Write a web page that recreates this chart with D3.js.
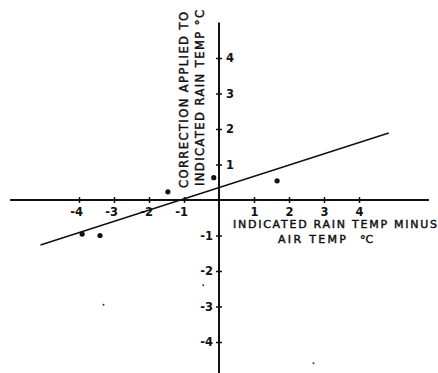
<!DOCTYPE html>
<html>
<head>
<meta charset="utf-8">
<script src="https://cdn.jsdelivr.net/npm/d3@7"></script>
<style>
  body { margin: 0; background: #fff; }
  svg { display: block; }
  text { font-family: "DejaVu Sans", sans-serif; fill: #111; }
  .title { stroke: #111; stroke-width: 0.45; }
</style>
</head>
<body>
<div id="chart"></div>
<script>
// measured points (indicated rain temp minus air temp, correction)
var pointX = [-3.91, -3.4, -1.46, -0.15, 1.66];
var pointY = [-0.96, -1.0, 0.23, 0.63, 0.54];

// fitted line, two ends
var fitX = [-5.1, 4.85];
var fitY = [-1.27, 1.89];

// small specks in the scan
var speckX = [-3.3, 2.7, -0.45];
var speckY = [-2.95, -4.6, -2.4];

var xTicks = [-4, -3, -2, -1, 1, 2, 3, 4];
var yTicksPos = [1, 2, 3, 4];
var yTicksNeg = [-1, -2, -3, -4];

var xAxisExtent = [-5.97, 6.0];
var yAxisExtent = [-4.9, 5.0];

var width = 438, height = 373;

var svg = d3.select("#chart").append("svg")
    .attr("width", width)
    .attr("height", height);

var x = d3.scaleLinear().domain([-4, 4]).range([79, 359]);
var y = d3.scaleLinear().domain([-4, 4]).range([342, 58]);

// axis lines
svg.append("line")
    .attr("x1", x(xAxisExtent[0])).attr("x2", x(xAxisExtent[1]))
    .attr("y1", y(0)).attr("y2", y(0))
    .attr("stroke", "#111").attr("stroke-width", 2);

svg.append("line")
    .attr("x1", x(0)).attr("x2", x(0))
    .attr("y1", y(yAxisExtent[0])).attr("y2", y(yAxisExtent[1]))
    .attr("stroke", "#111").attr("stroke-width", 2);

// x ticks
var gx = svg.append("g")
    .attr("transform", `translate(0, ${y(0)})`)
    .call(d3.axisBottom(x).tickValues(xTicks).tickSize(3).tickSizeOuter(0)
        .tickFormat(d => d < 0 ? "-" + Math.abs(d) : d));
gx.select(".domain").remove();
gx.selectAll(".tick line").attr("y1", -3).attr("stroke", "#111").attr("stroke-width", 1.5);
gx.selectAll(".tick text")
    .attr("y", 15.5).attr("dy", null)
    .attr("font-size", 11.5).attr("font-weight", "bold")
    .attr("text-anchor", d => d < 0 ? "end" : "middle")
    .attr("dx", d => d < 0 ? 3.5 : 0)
    .style("font-family", null);

// y ticks, positive labels on the right
var gyp = svg.append("g")
    .attr("transform", `translate(${x(0)}, 0)`)
    .call(d3.axisRight(y).tickValues(yTicksPos).tickSize(3).tickSizeOuter(0));
gyp.select(".domain").remove();
gyp.selectAll(".tick line").attr("x1", -3).attr("stroke", "#111").attr("stroke-width", 1.5);
gyp.selectAll(".tick text")
    .attr("x", 7).attr("font-size", 11.5).attr("font-weight", "bold")
    .style("font-family", null);

// negative labels on the left
var gyn = svg.append("g")
    .attr("transform", `translate(${x(0)}, 0)`)
    .call(d3.axisLeft(y).tickValues(yTicksNeg).tickSize(3).tickSizeOuter(0)
        .tickFormat(d => "-" + Math.abs(d)));
gyn.select(".domain").remove();
gyn.selectAll(".tick line").attr("x1", 3).attr("stroke", "#111").attr("stroke-width", 1.5);
gyn.selectAll(".tick text")
    .attr("x", -6).attr("font-size", 11.5).attr("font-weight", "bold")
    .style("font-family", null);

// fitted line
svg.append("line")
    .attr("x1", x(fitX[0])).attr("y1", y(fitY[0]))
    .attr("x2", x(fitX[1])).attr("y2", y(fitY[1]))
    .attr("stroke", "#111").attr("stroke-width", 1.6);

// points
svg.selectAll(".pt")
    .data(pointX)
    .enter().append("circle")
    .attr("class", "pt")
    .attr("cx", d => x(d))
    .attr("cy", (d, i) => y(pointY[i]))
    .attr("r", 2.6)
    .attr("fill", "#111");

svg.selectAll(".speck")
    .data(speckX)
    .enter().append("circle")
    .attr("class", "speck")
    .attr("cx", d => x(d))
    .attr("cy", (d, i) => y(speckY[i]))
    .attr("r", 1)
    .attr("fill", "#333");

// x axis title
svg.append("text").attr("class", "title")
    .attr("x", 233).attr("y", 227.5)
    .attr("font-size", 11)
    .attr("textLength", 204).attr("lengthAdjust", "spacing")
    .text("INDICATED RAIN TEMP MINUS");
svg.append("text").attr("class", "title")
    .attr("x", 278).attr("y", 243)
    .attr("font-size", 11)
    .attr("textLength", 68).attr("lengthAdjust", "spacing")
    .text("AIR TEMP");
svg.append("text").attr("class", "title")
    .attr("x", 360).attr("y", 243)
    .attr("font-size", 11)
    .text("°C");

// y axis title, rotated
svg.append("text").attr("class", "title")
    .attr("transform", "translate(188, 188) rotate(-90)")
    .attr("font-size", 11.5)
    .attr("textLength", 176).attr("lengthAdjust", "spacing")
    .text("CORRECTION APPLIED TO");
svg.append("text").attr("class", "title")
    .attr("transform", "translate(204, 186) rotate(-90)")
    .attr("font-size", 11.5)
    .attr("textLength", 176).attr("lengthAdjust", "spacing")
    .text("INDICATED RAIN TEMP °C");
</script>
</body>
</html>
